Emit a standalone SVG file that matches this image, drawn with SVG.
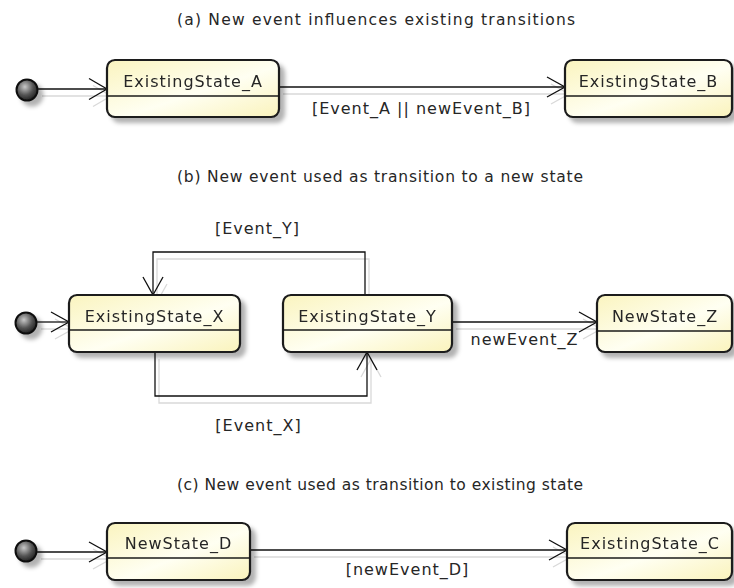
<svg xmlns="http://www.w3.org/2000/svg" width="734" height="588" viewBox="0 0 734 588">
  <defs>
    <linearGradient id="stateFill" x1="0" y1="0" x2="1" y2="1">
      <stop offset="0" stop-color="#FAF4BF"/>
      <stop offset="0.55" stop-color="#FFFFF2"/>
      <stop offset="1" stop-color="#FAF3BC"/>
    </linearGradient>
    <radialGradient id="dotFill" cx="0.4" cy="0.35" r="0.65">
      <stop offset="0" stop-color="#c8c8c8"/>
      <stop offset="0.6" stop-color="#555"/>
      <stop offset="1" stop-color="#222"/>
    </radialGradient>
    <filter id="nodeShadow" filterUnits="userSpaceOnUse" x="0" y="0" width="734" height="588">
      <feDropShadow dx="5" dy="5" stdDeviation="2.2" flood-color="#000" flood-opacity="0.3"/>
    </filter>
    <filter id="edgeShadow" filterUnits="userSpaceOnUse" x="0" y="0" width="734" height="588">
      <feOffset in="SourceAlpha" dx="4" dy="7" result="off"/>
      <feGaussianBlur in="off" stdDeviation="0.6" result="blur"/>
      <feFlood flood-color="#000" flood-opacity="0.15"/>
      <feComposite in2="blur" operator="in" result="shadow"/>
      <feMerge>
        <feMergeNode in="shadow"/>
        <feMergeNode in="SourceGraphic"/>
      </feMerge>
    </filter>
  </defs>
  <style>
    .state { filter: url(#nodeShadow); }
    .state rect { fill: url(#stateFill); stroke: #1a1a1a; stroke-width: 2.2; }
    .state line { stroke: #1a1a1a; stroke-width: 1.5; }
    .start { filter: url(#nodeShadow); }
    .start circle { fill: url(#dotFill); stroke: #111; stroke-width: 2; }
    text { font-family: "DejaVu Sans", Verdana, sans-serif; fill: #262626; }
    .title { font-size: 15.5px; }
    .name { font-size: 16px; letter-spacing: 1px; text-anchor: middle; }
    .lbl { font-size: 16px; letter-spacing: 1px; text-anchor: middle; }
    .edge { fill: none; stroke: #111; stroke-width: 1.3; }
  </style>

  <!-- section titles -->
  <g id="titles">
    <text class="title" x="177" y="25" textLength="398" lengthAdjust="spacing">(a) New event influences existing transitions</text>
    <text class="title" x="177" y="182" textLength="406" lengthAdjust="spacing">(b) New event used as transition to a new state</text>
    <text class="title" x="177" y="490" textLength="406" lengthAdjust="spacing">(c) New event used as transition to existing state</text>
  </g>

  <!-- transitions -->
  <g id="connectors" filter="url(#edgeShadow)">
    <g id="e_start_a">
      <path class="edge" d="M38,89 H107"/>
      <path class="edge" d="M89,78.5 L107,89 L89,99.5"/>
    </g>
    <g id="e_A_B">
      <path class="edge" d="M279,87 H565"/>
      <path class="edge" d="M547,77 L565,87 L547,97"/>
    </g>
    <g id="e_start_b">
      <path class="edge" d="M37,322 H69"/>
      <path class="edge" d="M51,312 L69,322 L51,332"/>
    </g>
    <g id="e_Y_X">
      <path class="edge" d="M365,295 V252 H153 V295"/>
      <path class="edge" d="M143,277 L153,295 L163,277"/>
    </g>
    <g id="e_X_Y">
      <path class="edge" d="M155,352 V396 H367 V352"/>
      <path class="edge" d="M357,370 L367,352 L377,370"/>
    </g>
    <g id="e_Y_Z">
      <path class="edge" d="M452,322 H597"/>
      <path class="edge" d="M579,312 L597,322 L579,332"/>
    </g>
    <g id="e_start_c">
      <path class="edge" d="M37,552 H107"/>
      <path class="edge" d="M89,542 L107,552 L89,562"/>
    </g>
    <g id="e_D_C">
      <path class="edge" d="M250,550 H567"/>
      <path class="edge" d="M549,540 L567,550 L549,560"/>
    </g>
  </g>

  <!-- transition labels -->
  <g id="edge-labels">
    <text class="lbl" x="421.5" y="114">[Event_A || newEvent_B]</text>
    <text class="lbl" x="257.5" y="234">[Event_Y]</text>
    <text class="lbl" x="258.5" y="431">[Event_X]</text>
    <text class="lbl" x="524.5" y="345">newEvent_Z</text>
    <text class="lbl" x="407.5" y="575">[newEvent_D]</text>
  </g>

  <!-- initial pseudo-states -->
  <g id="start_a" class="start"><circle cx="27" cy="90" r="10.5"/></g>
  <g id="start_b" class="start"><circle cx="26" cy="323" r="10.5"/></g>
  <g id="start_c" class="start"><circle cx="26" cy="551" r="10.5"/></g>

  <!-- states -->
  <g id="ExistingState_A" class="state">
    <rect x="107" y="60" width="172" height="57" rx="8"/>
    <line x1="107" y1="96" x2="279" y2="96"/>
    <text class="name" x="193" y="87">ExistingState_A</text>
  </g>
  <g id="ExistingState_B" class="state">
    <rect x="565" y="60" width="167" height="57" rx="8"/>
    <line x1="565" y1="96" x2="732" y2="96"/>
    <text class="name" x="648.5" y="87">ExistingState_B</text>
  </g>
  <g id="ExistingState_X" class="state">
    <rect x="69" y="295" width="171" height="57" rx="8"/>
    <line x1="69" y1="330" x2="240" y2="330"/>
    <text class="name" x="154.5" y="322">ExistingState_X</text>
  </g>
  <g id="ExistingState_Y" class="state">
    <rect x="283" y="295" width="169" height="57" rx="8"/>
    <line x1="283" y1="330" x2="452" y2="330"/>
    <text class="name" x="367.5" y="322">ExistingState_Y</text>
  </g>
  <g id="NewState_Z" class="state">
    <rect x="597" y="295" width="135" height="57" rx="8"/>
    <line x1="597" y1="331" x2="732" y2="331"/>
    <text class="name" x="665" y="322">NewState_Z</text>
  </g>
  <g id="NewState_D" class="state">
    <rect x="107" y="523" width="143" height="57" rx="8"/>
    <line x1="107" y1="558" x2="250" y2="558"/>
    <text class="name" x="178.5" y="549">NewState_D</text>
  </g>
  <g id="ExistingState_C" class="state">
    <rect x="567" y="523" width="165" height="57" rx="8"/>
    <line x1="567" y1="558" x2="732" y2="558"/>
    <text class="name" x="650" y="549">ExistingState_C</text>
  </g>
</svg>
